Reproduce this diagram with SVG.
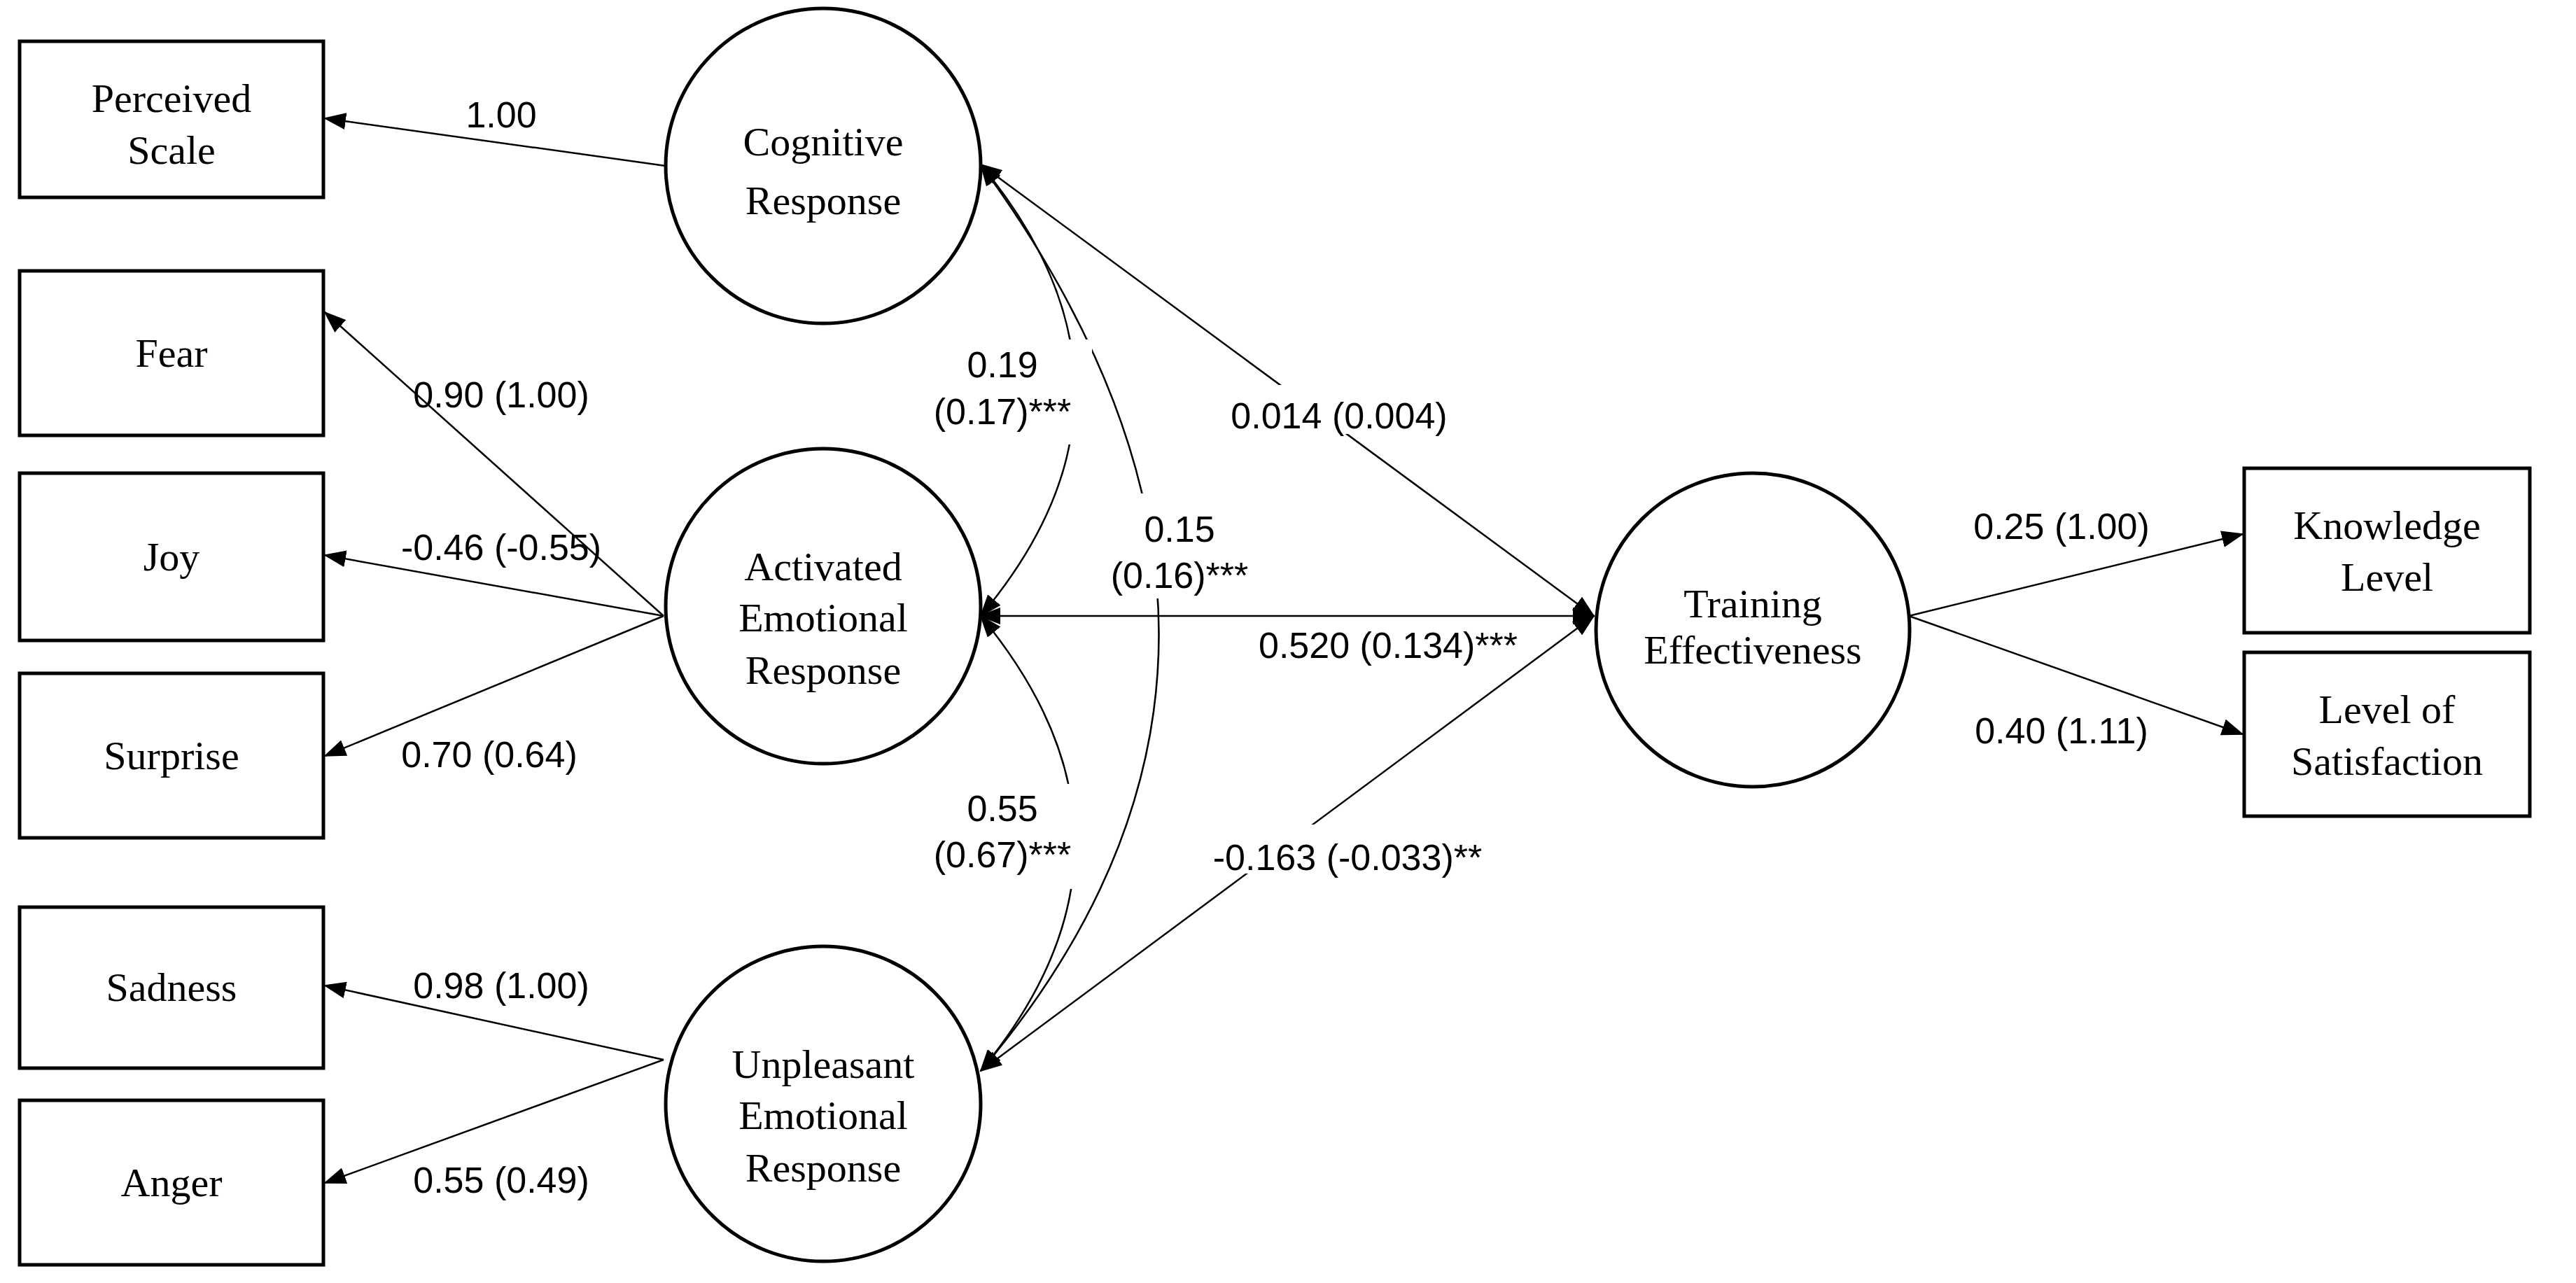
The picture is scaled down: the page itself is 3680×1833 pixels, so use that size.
<svg xmlns="http://www.w3.org/2000/svg" width="3680" height="1833" viewBox="0 0 3680 1833">
<style>
.box{fill:#fff;stroke:#000;stroke-width:5}
.nt{font-family:"Liberation Serif",serif;font-size:58px;text-anchor:middle}
.lb{font-family:"Liberation Sans",sans-serif;font-size:52px;text-anchor:middle}
.ln{fill:none;stroke:#000;stroke-width:2.5}
.bg{fill:#fff}
</style>
<defs>
<marker id="ah" markerUnits="userSpaceOnUse" markerWidth="32" markerHeight="24" refX="30" refY="12" orient="auto-start-reverse"><path d="M0,0 L32,12 L0,24 Z" fill="#000"/></marker>
</defs>
<rect width="3680" height="1833" fill="#fff"/>
<g id="connectors">
<line class="ln" x1="951" y1="237" x2="464" y2="169" marker-end="url(#ah)"/>
<line class="ln" x1="948" y1="880" x2="464" y2="446" marker-end="url(#ah)"/>
<line class="ln" x1="948" y1="880" x2="464" y2="793" marker-end="url(#ah)"/>
<line class="ln" x1="948" y1="880" x2="464" y2="1080" marker-end="url(#ah)"/>
<line class="ln" x1="948" y1="1514" x2="464" y2="1408" marker-end="url(#ah)"/>
<line class="ln" x1="948" y1="1514" x2="464" y2="1690" marker-end="url(#ah)"/>
<line class="ln" x1="2727" y1="880" x2="3204" y2="763" marker-end="url(#ah)"/>
<line class="ln" x1="2727" y1="880" x2="3204" y2="1049" marker-end="url(#ah)"/>
<line class="ln" x1="1401" y1="235" x2="2277" y2="880" marker-start="url(#ah)" marker-end="url(#ah)"/>
<line class="ln" x1="1399" y1="880" x2="2277" y2="880" marker-start="url(#ah)" marker-end="url(#ah)"/>
<line class="ln" x1="1401" y1="1530" x2="2277" y2="880" marker-start="url(#ah)" marker-end="url(#ah)"/>
<path class="ln" d="M1401,235 Q1670,560 1401,880" marker-start="url(#ah)" marker-end="url(#ah)"/>
<path class="ln" d="M1401,235 Q1910,930 1401,1530" marker-start="url(#ah)" marker-end="url(#ah)"/>
<path class="ln" d="M1401,880 Q1670,1205 1401,1530" marker-start="url(#ah)" marker-end="url(#ah)"/>
<rect class="bg" x="1320" y="485" width="240" height="150"/>
<rect class="bg" x="1320" y="1120" width="240" height="150"/>
<rect class="bg" x="1560" y="705" width="250" height="150"/>
<rect class="bg" x="1720" y="550" width="380" height="70"/>
<rect class="bg" x="1680" y="1178" width="500" height="70"/>
<text class="lb" x="716" y="582">0.90 (1.00)</text>
<text class="lb" x="716" y="800">-0.46 (-0.55)</text>
<text class="lb" x="699" y="1096">0.70 (0.64)</text>
<text class="lb" x="716" y="1426">0.98 (1.00)</text>
<text class="lb" x="716" y="1704">0.55 (0.49)</text>
<text class="lb" x="716" y="182">1.00</text>
<text class="lb" x="2945" y="770">0.25 (1.00)</text>
<text class="lb" x="2945" y="1062">0.40 (1.11)</text>
<text class="lb" x="1432" y="539">0.19</text>
<text class="lb" x="1432" y="606">(0.17)***</text>
<text class="lb" x="1685" y="774">0.15</text>
<text class="lb" x="1685" y="840">(0.16)***</text>
<text class="lb" x="1432" y="1173">0.55</text>
<text class="lb" x="1432" y="1239">(0.67)***</text>
<text class="lb" x="1913" y="612">0.014 (0.004)</text>
<text class="lb" x="1983" y="940">0.520 (0.134)***</text>
<text class="lb" x="1925" y="1243">-0.163 (-0.033)**</text>
</g>
<g id="perceived"><rect class="box" x="28" y="59" width="434" height="223"/><text class="nt" x="245" y="160">Perceived</text><text class="nt" x="245" y="234">Scale</text></g>
<g id="fear"><rect class="box" x="28" y="387" width="434" height="235"/><text class="nt" x="245" y="524">Fear</text></g>
<g id="joy"><rect class="box" x="28" y="676" width="434" height="239"/><text class="nt" x="245" y="815">Joy</text></g>
<g id="surprise"><rect class="box" x="28" y="962" width="434" height="235"/><text class="nt" x="245" y="1099">Surprise</text></g>
<g id="sadness"><rect class="box" x="28" y="1296" width="434" height="230"/><text class="nt" x="245" y="1430">Sadness</text></g>
<g id="anger"><rect class="box" x="28" y="1572" width="434" height="235"/><text class="nt" x="245" y="1709">Anger</text></g>
<g id="knowledge"><rect class="box" x="3206" y="669" width="408" height="235"/><text class="nt" x="3410" y="770">Knowledge</text><text class="nt" x="3410" y="844">Level</text></g>
<g id="satisfaction"><rect class="box" x="3206" y="932" width="408" height="234"/><text class="nt" x="3410" y="1033">Level of</text><text class="nt" x="3410" y="1107">Satisfaction</text></g>
<g id="cognitive"><circle class="box" cx="1176" cy="237" r="225"/><text class="nt" x="1176" y="222">Cognitive</text><text class="nt" x="1176" y="306">Response</text></g>
<g id="activated"><circle class="box" cx="1176" cy="866" r="225"/><text class="nt" x="1176" y="829">Activated</text><text class="nt" x="1176" y="902">Emotional</text><text class="nt" x="1176" y="977">Response</text></g>
<g id="unpleasant"><circle class="box" cx="1176" cy="1577" r="225"/><text class="nt" x="1176" y="1540">Unpleasant</text><text class="nt" x="1176" y="1613">Emotional</text><text class="nt" x="1176" y="1688">Response</text></g>
<g id="training"><circle class="box" cx="2504" cy="900" r="224"/><text class="nt" x="2504" y="882">Training</text><text class="nt" x="2504" y="948">Effectiveness</text></g>
</svg>
